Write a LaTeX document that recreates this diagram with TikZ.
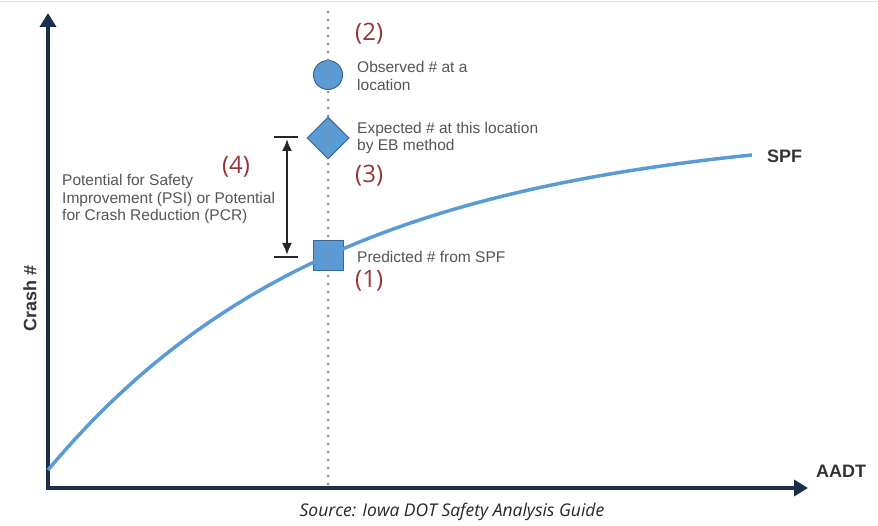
\documentclass[tikz,border=0pt]{standalone}
\usepackage{fontspec}
\setmainfont{Liberation Sans}
\newfontfamily\numfont{Open Sans}
\usetikzlibrary{arrows.meta,shapes.geometric}
\definecolor{axisblue}{HTML}{1B2F4B}
\definecolor{curveblue}{HTML}{5B9BD5}
\definecolor{markfill}{HTML}{5B9BD5}
\definecolor{markline}{HTML}{3A6896}
\definecolor{labelgray}{HTML}{555555}
\definecolor{boldgray}{HTML}{333333}
\definecolor{numred}{HTML}{953735}

\begin{document}
\begin{tikzpicture}[x=1pt,y=-1pt]
        \tikzstyle{every node} = [inner sep=0pt]
        \tikzstyle{lbl} = [anchor=west, align=left, text=labelgray, font=\fontsize{15.5}{17.5}\selectfont]
        \tikzstyle{num} = [anchor=west, text=numred, font=\numfont\fontsize{24}{28}\selectfont]
        \tikzstyle{axlbl} = [text=boldgray, font=\bfseries\fontsize{18}{20}\selectfont]
        \tikzstyle{marker} = [draw=markline, fill=markfill, line width=1pt]
        \useasboundingbox (0,0) rectangle (878,526);
        \draw[gray!25, line width=1.5pt] (0,1.5) -- (878,1.5);

        % axes
        \coordinate (O) at (48,488);
        \coordinate (ytip) at (48,13);
        \coordinate (xtip) at (808,488);
        \draw[axisblue, line width=3.5pt, line join=miter, {Triangle[width=16pt,length=14pt]}-{Triangle[width=16pt,length=14pt]}]
                (ytip) -- (O) -- (xtip);
        \node[axlbl, rotate=90] (crash) at (30,298) {Crash \#};
        \node[axlbl, anchor=west] (aadt) at (816,471) {AADT};

        % markers
        \node[marker, circle, minimum size=29pt] (obs) at (328,75) {};
        \node[marker, diamond, minimum size=42pt] (exp) at (328,138) {};
        \node[marker, rectangle, minimum size=30pt] (pred) at (328,256) {};

        % spf curve
        \draw[curveblue, line width=3.5pt] plot[domain=48:752, samples=80] (\x, {470-345*(1-exp(-(\x-48)/288))});
        \node[axlbl, anchor=west] (spf) at (767,156) {SPF};

        % dotted line
        \coordinate (dtop) at (328,12);
        \coordinate (dbot) at (328,486);
        \draw[gray!85, line width=3pt, line cap=round, dash pattern=on 0pt off 8pt] (dtop) -- (dbot);

        % labels
        \node[num] (n2) at (355,34) {(2)};
        \node[lbl] (obstxt) at (357,76) {Observed \# at a\\location};
        \node[lbl] (exptxt) at (357,138) {Expected \# at this location\\by EB method};
        \node[num] (n3) at (355,176) {(3)};
        \node[lbl] (predtxt) at (357,257) {Predicted \# from SPF};
        \node[num] (n1) at (355,281) {(1)};

        % psi / pcr range
        \coordinate (t1) at (274,137);
        \coordinate (t2) at (298,137);
        \coordinate (b1) at (274,257);
        \coordinate (b2) at (298,257);
        \coordinate (at) at (287,139);
        \coordinate (ab) at (287,255);
        \draw[black!85, line width=2.2pt] (t1) -- (t2);
        \draw[black!85, line width=2.2pt] (b1) -- (b2);
        \draw[black!85, line width=2pt, {Latex[length=12pt,width=10pt]}-{Latex[length=12pt,width=10pt]}] (at) -- (ab);
        \node[num, anchor=center] (n4) at (236,167) {(4)};
        \node[lbl] (psi) at (62,199) {Potential for Safety\\Improvement (PSI) or Potential\\for Crash Reduction (PCR)};

        \node[text=black!85, font=\numfont\itshape\fontsize{17.5}{20}\selectfont] (src) at (452,512) {Source: Iowa DOT Safety Analysis Guide};
\end{tikzpicture}
\end{document}
